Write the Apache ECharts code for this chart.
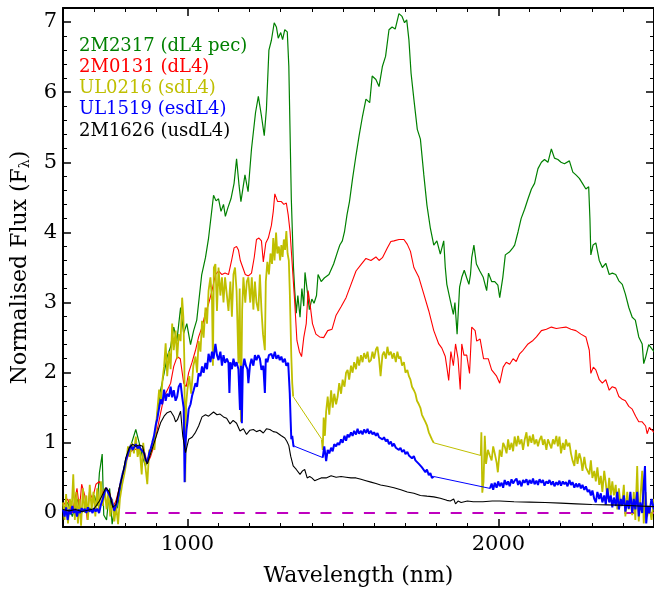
<!DOCTYPE html>
<html>
<head>
<meta charset="utf-8">
<script src="https://cdn.jsdelivr.net/npm/echarts@6/dist/echarts.min.js"></script>
<style>
html,body{margin:0;padding:0;background:#fff;}
#chart{width:654px;height:592px;}
</style>
</head>
<body>
<div id="chart"></div>
<script>
// ---- Data (wavelength nm, normalised flux) ----
const seriesNames = ['2M2317 (dL4 pec)', '2M0131 (dL4)', 'UL0216 (sdL4)', 'UL1519 (esdL4)', '2M1626 (usdL4)'];
const seriesColors = ['#008000', '#ff0000', '#bfbf00', '#0000ff', '#000000'];

const green2M2317 = [[600,0.05],[615,0.15],[630,-0.05],[645,0.2],[660,0.0],[675,0.1],[690,0.05],[701,0.25],[710,0.1],[717,0.57],[726,0.84],[731,-0.03],[740,-0.1],[750,0.35],[758,-0.16],[768,0.1],[775,0.07],[791,0.53],[802,0.76],[818,0.96],[834,1.19],[845,1.0],[855,0.81],[865,0.67],[875,0.8],[893,0.99],[903,1.42],[914,1.76],[925,1.99],[935,2.23],[946,2.37],[956,2.65],[966,2.45],[978,2.93],[988,2.56],[998,2.7],[1010,2.4],[1020,2.6],[1030,2.75],[1046,3.4],[1058,3.64],[1068,3.92],[1084,4.53],[1092,4.45],[1100,4.48],[1108,4.3],[1116,4.4],[1122,4.23],[1130,4.35],[1140,4.48],[1150,4.7],[1158,5.05],[1166,4.67],[1172,4.44],[1185,4.82],[1195,4.58],[1206,5.19],[1219,5.71],[1228,5.94],[1238,5.66],[1247,5.38],[1254,5.76],[1262,6.6],[1270,6.74],[1279,6.99],[1286,6.93],[1292,6.77],[1300,6.85],[1306,6.75],[1313,6.89],[1321,6.86],[1326,6.37],[1334,4.48],[1341,3.5],[1345,3.17],[1350,2.85],[1355,3.1],[1362,2.79],[1368,3.2],[1374,2.95],[1378,3.43],[1386,3.14],[1392,2.9],[1400,3.05],[1407,2.99],[1415,3.1],[1420,3.4],[1430,3.3],[1440,3.35],[1455,3.4],[1470,3.55],[1483,3.73],[1490,3.82],[1498,3.88],[1505,4.01],[1513,4.25],[1521,4.44],[1531,4.77],[1542,5.1],[1552,5.38],[1563,5.66],[1574,5.9],[1586,5.85],[1594,6.23],[1606,6.18],[1616,6.08],[1627,6.37],[1637,6.51],[1648,6.89],[1658,6.93],[1668,6.9],[1680,7.12],[1690,7.08],[1698,6.99],[1705,7.03],[1712,6.75],[1719,6.27],[1728,5.9],[1739,5.47],[1749,5.33],[1760,4.82],[1770,4.39],[1781,4.06],[1792,3.82],[1802,3.88],[1813,3.69],[1824,3.88],[1829,3.5],[1834,3.26],[1845,3.03],[1855,2.83],[1860,3.0],[1867,2.55],[1875,3.22],[1882,3.36],[1890,3.46],[1898,3.35],[1905,3.26],[1910,3.4],[1914,3.64],[1921,3.82],[1929,3.55],[1940,3.45],[1951,3.36],[1962,3.17],[1968,3.42],[1978,3.3],[1988,3.3],[1998,3.25],[2004,3.07],[2014,3.36],[2022,3.68],[2035,3.72],[2046,3.78],[2052,3.82],[2063,4.01],[2073,4.2],[2084,4.33],[2095,4.48],[2106,4.62],[2116,4.7],[2127,4.91],[2138,5.0],[2148,5.04],[2159,5.0],[2170,5.19],[2180,5.06],[2191,5.04],[2201,5.0],[2212,4.98],[2228,5.02],[2239,4.86],[2249,4.82],[2260,4.77],[2270,4.7],[2281,4.62],[2290,4.65],[2294,4.2],[2297,3.68],[2304,3.82],[2313,3.85],[2324,3.6],[2334,3.5],[2345,3.56],[2356,3.4],[2366,3.42],[2377,3.4],[2387,3.31],[2398,3.26],[2408,3.12],[2419,2.93],[2430,2.79],[2440,2.75],[2451,2.51],[2462,2.41],[2467,2.13],[2473,2.22],[2483,2.4],[2500,2.3]];

const red2M0131 = [[600,0.1],[615,0.2],[630,0.0],[645,0.35],[653,0.06],[660,0.41],[670,0.25],[678,-0.1],[685,0.3],[695,0.2],[706,0.41],[717,0.45],[728,0.27],[738,0.36],[749,0.3],[760,0.08],[770,0.17],[781,0.36],[792,0.55],[802,0.72],[813,0.86],[829,0.91],[845,0.9],[860,0.91],[871,0.70],[882,0.81],[893,0.96],[903,1.19],[914,1.43],[925,1.66],[935,1.75],[946,1.85],[956,2.09],[967,2.23],[977,2.2],[988,1.85],[996,1.8],[1004,2.0],[1015,2.15],[1026,2.32],[1036,2.51],[1047,2.65],[1057,2.84],[1068,2.98],[1079,3.17],[1090,3.4],[1100,3.45],[1111,3.4],[1121,3.42],[1132,3.4],[1142,3.6],[1150,3.78],[1158,3.8],[1164,3.75],[1170,3.6],[1178,3.5],[1186,3.4],[1196,3.38],[1206,3.42],[1215,3.65],[1222,3.9],[1230,3.92],[1238,3.88],[1244,3.58],[1252,3.85],[1260,3.92],[1270,4.1],[1276,4.3],[1281,4.55],[1290,4.44],[1302,4.44],[1310,4.4],[1318,4.42],[1324,4.25],[1330,4.01],[1337,3.54],[1345,3.0],[1352,2.46],[1360,2.3],[1367,2.23],[1374,2.5],[1382,2.7],[1388,3.17],[1395,2.95],[1402,2.7],[1413,2.55],[1425,2.51],[1438,2.5],[1451,2.6],[1465,2.62],[1478,2.82],[1494,2.94],[1510,3.07],[1526,3.26],[1542,3.45],[1558,3.54],[1574,3.63],[1590,3.6],[1606,3.65],[1616,3.6],[1627,3.64],[1643,3.78],[1654,3.87],[1664,3.88],[1680,3.9],[1696,3.9],[1707,3.83],[1717,3.73],[1728,3.5],[1744,3.36],[1760,3.12],[1776,2.88],[1792,2.6],[1808,2.41],[1818,2.35],[1829,2.23],[1834,2.08],[1840,1.89],[1847,2.3],[1855,2.1],[1862,2.41],[1870,2.2],[1877,1.76],[1882,2.41],[1889,2.25],[1898,2.25],[1907,1.99],[1914,2.65],[1925,2.6],[1930,2.45],[1941,2.48],[1952,2.2],[1967,2.2],[1978,2.04],[1994,1.95],[2004,1.85],[2015,2.08],[2025,2.15],[2036,2.12],[2047,2.2],[2057,2.16],[2068,2.27],[2079,2.32],[2095,2.41],[2111,2.46],[2122,2.51],[2138,2.6],[2154,2.62],[2170,2.65],[2186,2.63],[2201,2.64],[2217,2.65],[2233,2.62],[2249,2.6],[2265,2.55],[2281,2.51],[2292,2.32],[2297,1.99],[2305,2.08],[2313,2.04],[2324,1.9],[2334,1.85],[2345,1.9],[2356,1.75],[2366,1.8],[2377,1.78],[2387,1.66],[2398,1.62],[2408,1.6],[2419,1.52],[2430,1.48],[2441,1.38],[2451,1.3],[2462,1.3],[2473,1.24],[2478,1.13],[2485,1.22],[2500,1.15]];

const yellowUL0216 = [[600,0.15],[605,-0.1],[610,0.27],[616,-0.15],[622,0.2],[628,0.05],[633,0.55],[638,-0.1],[643,0.3],[648,-0.15],[653,0.2],[658,-0.18],[664,0.35],[670,0.0],[675,0.25],[680,-0.1],[686,0.4],[692,0.05],[698,0.3],[704,-0.05],[710,0.35],[716,0.0],[722,0.45],[728,0.1],[734,0.35],[740,0.05],[746,0.3],[752,-0.05],[758,0.2],[765,-0.12],[771,0.1],[777,-0.16],[783,0.2],[790,0.4],[797,0.55],[803,0.7],[809,0.95],[815,0.8],[821,1.0],[828,0.85],[834,1.09],[840,0.8],[846,0.95],[853,0.55],[858,1.0],[864,0.7],[871,0.41],[877,0.9],[883,0.85],[889,1.05],[894,0.9],[898,1.19],[904,1.5],[909,1.76],[915,1.6],[920,1.9],[925,2.09],[930,2.42],[935,1.95],[941,2.3],[946,2.05],[951,2.7],[956,2.32],[962,2.6],[967,2.2],[972,2.55],[978,2.45],[983,3.07],[987,2.79],[990,2.2],[993,0.44],[996,1.55],[1000,1.76],[1006,1.95],[1012,1.7],[1019,2.1],[1026,2.23],[1031,2.0],[1036,2.45],[1042,2.3],[1047,2.74],[1052,2.5],[1058,2.93],[1063,2.7],[1068,3.17],[1074,3.36],[1079,3.03],[1082,2.1],[1085,3.5],[1090,3.55],[1095,2.88],[1100,3.5],[1106,3.1],[1111,3.36],[1116,3.0],[1121,3.36],[1127,3.1],[1132,2.88],[1138,3.3],[1143,2.8],[1148,3.4],[1153,3.5],[1158,3.17],[1164,2.13],[1168,3.2],[1172,1.3],[1176,2.9],[1180,3.36],[1186,3.0],[1191,3.3],[1196,3.36],[1202,3.0],[1207,3.36],[1212,2.9],[1217,3.3],[1222,3.0],[1228,2.88],[1233,3.4],[1238,2.9],[1243,2.55],[1249,2.32],[1252,3.3],[1257,3.58],[1262,3.4],[1267,3.7],[1272,3.55],[1276,3.92],[1280,3.6],[1285,4.0],[1289,3.7],[1294,3.8],[1298,3.6],[1302,3.82],[1306,3.65],[1310,3.9],[1314,3.75],[1318,4.02],[1322,3.7],[1326,3.6],[1329,3.17],[1334,2.23],[1337,1.85],[1340,1.66],
[1432,1.05],[1435,0.9],[1438,1.36],[1442,1.1],[1446,1.45],[1451,1.66],[1456,1.4],[1462,1.75],[1467,1.5],[1472,1.7],[1478,1.55],[1483,1.66],[1488,1.85],[1494,1.7],[1499,1.9],[1505,1.8],[1510,2.0],[1515,2.04],[1520,1.9],[1526,2.1],[1531,2.0],[1536,2.15],[1542,2.05],[1547,2.23],[1552,2.1],[1558,2.25],[1563,2.15],[1568,2.28],[1574,2.2],[1579,2.3],[1584,2.15],[1590,2.18],[1595,2.3],[1600,2.2],[1606,2.33],[1611,2.37],[1616,2.2],[1621,1.95],[1627,2.25],[1632,2.3],[1638,2.2],[1643,2.37],[1648,2.25],[1654,2.3],[1659,2.2],[1664,2.28],[1670,2.15],[1675,2.3],[1680,2.2],[1685,2.23],[1690,2.1],[1696,2.15],[1701,2.0],[1707,2.04],[1712,1.95],[1717,1.9],[1722,1.8],[1728,1.75],[1733,1.7],[1738,1.6],[1744,1.55],[1749,1.5],[1754,1.4],[1760,1.38],[1765,1.3],[1770,1.25],[1776,1.15],[1781,1.14],[1786,1.05],[1792,1.0],
[1943,0.82],[1945,1.15],[1948,0.29],[1952,0.45],[1956,1.1],[1960,0.7],[1966,0.9],[1972,0.82],[1978,0.75],[1983,0.95],[1988,0.85],[1994,0.72],[1998,0.58],[2004,0.9],[2010,0.8],[2015,1.0],[2020,0.95],[2026,0.85],[2031,1.05],[2036,0.9],[2042,1.0],[2047,0.88],[2052,1.09],[2058,0.95],[2063,1.1],[2068,0.98],[2074,1.05],[2079,0.9],[2084,1.04],[2090,1.15],[2095,0.95],[2100,1.1],[2106,1.0],[2111,1.12],[2116,0.98],[2122,1.05],[2127,0.95],[2132,1.04],[2138,1.1],[2143,0.97],[2148,1.05],[2154,0.9],[2159,1.05],[2164,1.04],[2170,0.92],[2175,1.05],[2180,0.98],[2186,1.1],[2191,0.95],[2196,1.09],[2201,0.85],[2207,1.0],[2212,0.9],[2217,1.05],[2222,0.95],[2228,1.0],[2233,0.85],[2238,0.75],[2244,0.67],[2249,0.9],[2254,0.7],[2260,0.85],[2265,0.77],[2270,0.6],[2276,0.8],[2281,0.65],[2287,0.67],[2292,0.55],[2297,0.75],[2302,0.5],[2308,0.6],[2313,0.45],[2318,0.65],[2324,0.4],[2329,0.53],[2334,0.3],[2340,0.6],[2345,0.43],[2350,0.2],[2356,0.5],[2361,0.25],[2366,0.45],[2371,0.25],[2377,0.4],[2382,0.05],[2387,0.35],[2393,0.1],[2398,0.15],[2403,0.4],[2408,-0.05],[2414,0.3],[2419,0.05],[2424,0.2],[2430,-0.03],[2435,0.3],[2440,-0.1],[2446,0.67],[2451,-0.12],[2456,0.2],[2462,0.6],[2467,-0.15],[2473,0.3],[2478,-0.05],[2485,0.1],[2492,-0.1],[2500,0.2]];

const blueUL1519 = [[600,0.05],[605,-0.05],[610,0.08],[615,-0.1],[620,0.05],[625,-0.02],[630,0.1],[635,0.0],[640,0.06],[645,-0.05],[650,0.05],[655,0.0],[660,0.07],[665,0.02],[670,0.06],[675,0.0],[680,0.08],[685,0.02],[690,0.05],[695,0.0],[700,0.07],[705,0.02],[710,0.06],[716,0.0],[722,0.12],[728,0.2],[734,0.3],[739,0.36],[744,0.3],[750,0.32],[755,0.2],[760,0.12],[765,0.03],[770,0.1],[775,0.17],[780,0.3],[786,0.45],[791,0.55],[797,0.64],[802,0.75],[808,0.83],[813,0.9],[818,0.97],[824,0.9],[829,0.91],[834,0.98],[840,0.92],[845,0.95],[850,0.91],[856,0.88],[861,0.85],[866,0.75],[871,0.72],[877,0.85],[882,0.92],[887,1.0],[893,1.11],[898,1.25],[903,1.34],[909,1.5],[914,1.62],[919,1.55],[925,1.76],[930,1.6],[935,1.7],[941,1.66],[946,1.8],[951,1.65],[956,1.75],[962,1.6],[967,1.66],[972,1.8],[978,1.85],[983,1.66],[988,1.5],[991,0.44],[994,1.0],[997,1.19],[1000,1.3],[1004,1.48],[1010,1.55],[1015,1.67],[1020,1.75],[1026,1.85],[1031,1.8],[1036,1.99],[1042,1.95],[1047,2.09],[1052,2.0],[1058,2.14],[1063,2.05],[1068,2.27],[1074,2.15],[1079,2.3],[1084,2.2],[1090,2.41],[1095,2.25],[1100,2.18],[1106,2.3],[1111,2.1],[1116,2.25],[1121,2.14],[1127,2.2],[1132,2.14],[1135,1.71],[1138,2.15],[1143,2.05],[1148,2.2],[1153,2.09],[1158,2.15],[1164,2.05],[1169,1.47],[1172,2.1],[1175,1.28],[1178,2.05],[1183,2.2],[1188,2.1],[1193,2.05],[1196,1.85],[1201,2.1],[1206,2.2],[1212,2.1],[1217,2.25],[1222,2.18],[1228,2.25],[1233,2.2],[1238,2.04],[1244,2.1],[1249,1.71],[1252,2.2],[1257,2.15],[1262,2.25],[1270,2.27],[1275,2.2],[1281,2.3],[1286,2.2],[1292,2.25],[1297,2.18],[1302,2.23],[1307,2.15],[1313,2.2],[1318,2.1],[1324,2.14],[1329,1.71],[1332,1.3],[1334,1.05],[1337,1.1],[1341,0.95],[1345,0.95],
[1435,0.79],[1440,0.95],[1446,0.74],[1451,0.9],[1456,0.85],[1462,0.93],[1467,0.88],[1472,0.98],[1478,0.95],[1483,1.0],[1488,0.97],[1494,1.05],[1499,1.0],[1505,1.1],[1510,1.03],[1515,1.12],[1520,1.08],[1526,1.15],[1531,1.1],[1536,1.17],[1542,1.12],[1547,1.2],[1552,1.13],[1558,1.17],[1563,1.12],[1568,1.19],[1574,1.14],[1579,1.2],[1584,1.13],[1590,1.17],[1595,1.12],[1600,1.15],[1606,1.1],[1611,1.14],[1616,1.08],[1621,1.1],[1627,1.05],[1632,1.08],[1638,1.02],[1643,1.05],[1648,0.98],[1654,1.02],[1659,0.95],[1664,0.99],[1670,0.93],[1675,0.95],[1680,0.9],[1685,0.93],[1690,0.87],[1696,0.9],[1701,0.84],[1707,0.87],[1712,0.82],[1717,0.84],[1722,0.78],[1728,0.81],[1733,0.75],[1738,0.77],[1744,0.7],[1749,0.72],[1754,0.65],[1760,0.67],[1765,0.58],[1770,0.62],[1776,0.54],[1781,0.57],[1786,0.5],[1792,0.52],
[1973,0.35],[1978,0.42],[1983,0.33],[1988,0.43],[1994,0.36],[1999,0.45],[2004,0.38],[2010,0.43],[2015,0.36],[2020,0.47],[2026,0.4],[2031,0.45],[2036,0.38],[2042,0.48],[2047,0.42],[2052,0.46],[2058,0.49],[2063,0.4],[2068,0.46],[2074,0.38],[2079,0.47],[2084,0.43],[2090,0.48],[2095,0.4],[2100,0.47],[2106,0.42],[2111,0.49],[2116,0.41],[2122,0.46],[2127,0.4],[2132,0.48],[2138,0.43],[2143,0.47],[2148,0.39],[2154,0.45],[2159,0.42],[2164,0.47],[2170,0.4],[2175,0.45],[2180,0.38],[2186,0.44],[2191,0.4],[2196,0.46],[2201,0.39],[2207,0.45],[2212,0.41],[2217,0.44],[2222,0.38],[2228,0.47],[2233,0.4],[2238,0.44],[2244,0.36],[2249,0.42],[2254,0.37],[2260,0.42],[2265,0.35],[2270,0.4],[2276,0.33],[2281,0.38],[2287,0.3],[2292,0.33],[2297,0.25],[2302,0.32],[2308,0.2],[2313,0.15],[2318,0.3],[2324,0.2],[2329,0.28],[2334,0.15],[2340,0.25],[2345,0.12],[2350,0.35],[2356,0.15],[2361,0.25],[2366,0.08],[2371,0.22],[2377,0.1],[2382,0.3],[2387,0.05],[2393,0.2],[2398,0.1],[2403,0.25],[2408,0.02],[2414,0.18],[2419,0.06],[2424,0.3],[2430,0.0],[2435,0.2],[2440,0.05],[2446,0.3],[2451,-0.05],[2456,0.15],[2462,0.0],[2467,0.4],[2471,0.67],[2475,-0.15],[2480,0.1],[2485,0.0],[2492,0.2],[2500,0.05]];

const black2M1626 = [[600,0.05],[620,0.03],[640,0.05],[660,0.02],[680,0.04],[700,0.06],[717,0.17],[728,0.27],[738,0.36],[749,0.3],[760,0.08],[770,0.12],[781,0.36],[792,0.55],[802,0.79],[813,0.93],[824,0.98],[834,0.95],[845,0.97],[856,0.95],[864,0.79],[871,0.7],[882,0.85],[893,1.0],[903,1.14],[914,1.29],[925,1.38],[935,1.43],[946,1.45],[956,1.38],[962,1.3],[968,1.33],[978,1.45],[985,1.1],[994,0.86],[1004,1.05],[1015,1.08],[1026,1.15],[1036,1.24],[1047,1.37],[1058,1.4],[1068,1.38],[1084,1.44],[1095,1.4],[1105,1.41],[1116,1.37],[1126,1.35],[1137,1.27],[1147,1.32],[1158,1.28],[1169,1.17],[1180,1.2],[1190,1.12],[1201,1.18],[1212,1.19],[1222,1.16],[1233,1.18],[1244,1.14],[1254,1.2],[1265,1.19],[1276,1.16],[1286,1.15],[1302,1.1],[1313,1.07],[1320,1.02],[1326,0.96],[1332,0.81],[1340,0.67],[1350,0.62],[1362,0.55],[1370,0.6],[1377,0.62],[1385,0.5],[1393,0.52],[1400,0.5],[1409,0.46],[1420,0.48],[1430,0.5],[1446,0.5],[1462,0.53],[1478,0.51],[1494,0.52],[1510,0.51],[1526,0.5],[1542,0.5],[1558,0.48],[1574,0.46],[1590,0.44],[1606,0.42],[1621,0.4],[1643,0.38],[1664,0.36],[1686,0.33],[1707,0.3],[1728,0.28],[1749,0.25],[1770,0.24],[1792,0.23],[1813,0.21],[1834,0.18],[1845,0.17],[1856,0.2],[1862,0.13],[1870,0.17],[1880,0.15],[1900,0.17],[1919,0.16],[1950,0.16],[1980,0.17],[2004,0.17],[2050,0.16],[2100,0.155],[2150,0.15],[2200,0.14],[2250,0.13],[2300,0.12],[2350,0.115],[2400,0.11],[2450,0.1],[2500,0.09]];

const zeroLine = [[800,0],[2500,0]];

// ---- Axis ticks ----
const xTickLabels = [1000, 2000];
const yTickLabels = [0, 1, 2, 3, 4, 5, 6, 7];
const xMinorTicks = [700,800,900,1100,1200,1300,1400,1500,1600,1700,1800,1900,2100,2200,2300,2400];
const yMinorTicks = [];
for (let i = 0; i <= 7; i++) { for (let j = 1; j <= 4; j++) { const v = +(i + j * 0.2).toFixed(1); if (v < 7.2) yMinorTicks.push(v); } }

const XMIN = 600, XMAX = 2500, YMIN = -0.2, YMAX = 7.2;
const FONT = 'DejaVu Serif';

function xAx(pos, major, showLabel, name) {
  return {
    type: 'value', min: XMIN, max: XMAX, position: pos, gridIndex: 0,
    axisLine: { show: major, onZero: false, lineStyle: { color: '#000', width: 2 } },
    axisTick: { show: true, inside: true, length: major ? 8 : 4, customValues: major ? xTickLabels : xMinorTicks,
                lineStyle: { color: '#000', width: major ? 1.5 : 1 } },
    axisLabel: { show: showLabel, customValues: xTickLabels, formatter: v => String(v),
                 fontFamily: FONT, fontSize: 21, color: '#000', margin: 7 },
    splitLine: { show: false },
    name: name || '', nameLocation: 'middle', nameGap: 38,
    nameTextStyle: { fontFamily: FONT, fontSize: 22, color: '#000' }
  };
}
function yAx(pos, major, showLabel, name) {
  return {
    type: 'value', min: YMIN, max: YMAX, position: pos, gridIndex: 0,
    axisLine: { show: major, onZero: false, lineStyle: { color: '#000', width: 2 } },
    axisTick: { show: true, inside: true, length: major ? 8 : 4, customValues: major ? yTickLabels : yMinorTicks,
                lineStyle: { color: '#000', width: major ? 1.5 : 1 } },
    axisLabel: { show: showLabel, customValues: yTickLabels, formatter: v => String(v),
                 fontFamily: FONT, fontSize: 21, color: '#000', margin: 6 },
    splitLine: { show: false },
    name: name || '', nameLocation: 'middle', nameGap: 29, nameRotate: 90,
    nameTextStyle: { fontFamily: FONT, fontSize: 22, color: '#000',
      rich: { s: { fontFamily: FONT, fontSize: 14, color: '#000', verticalAlign: 'bottom', padding: [10, 0, 0, 0] } } }
  };
}

// split a spectrum into its observed segments (gaps > 50 nm between samples)
function segmentsOf(arr) {
  const segs = [[arr[0]]];
  for (let i = 1; i < arr.length; i++) {
    if (arr[i][0] - arr[i - 1][0] > 50) segs.push([]);
    segs[segs.length - 1].push(arr[i]);
  }
  return segs;
}
function withBreaks(arr) {
  const out = [];
  segmentsOf(arr).forEach((s, k) => { if (k) out.push([s[0][0] - 1, null]); s.forEach(p => out.push(p)); });
  return out;
}
function connectors(arr) {
  const segs = segmentsOf(arr), out = [];
  for (let k = 1; k < segs.length; k++) {
    if (k > 1) out.push([segs[k - 1][0][0], null]);
    out.push(segs[k - 1][segs[k - 1].length - 1]);
    out.push(segs[k][0]);
  }
  return out;
}

const specs = [green2M2317, red2M0131, yellowUL0216, blueUL1519, black2M1626];
const widths = [1.2, 1.1, 1.8, 2.0, 1.1];

const series = [{
  type: 'line', name: 'zero', data: zeroLine, xAxisIndex: 0, yAxisIndex: 0,
  showSymbol: false, silent: true, z: 1,
  lineStyle: { color: '#bf00bf', width: 2, type: [11, 10.7] }
}];
specs.forEach((d, i) => {
  series.push({
    type: 'line', name: seriesNames[i], data: withBreaks(d), xAxisIndex: 0, yAxisIndex: 0,
    showSymbol: false, symbol: 'none', clip: true, z: 2 + i, connectNulls: false,
    lineStyle: { color: seriesColors[i], width: widths[i] },
    itemStyle: { color: seriesColors[i] }
  });
  const c = connectors(d);
  if (c.length) {
    series.push({
      type: 'line', name: seriesNames[i] + ' gap', data: c, xAxisIndex: 0, yAxisIndex: 0,
      showSymbol: false, symbol: 'none', clip: true, z: 2 + i, silent: true,
      lineStyle: { color: seriesColors[i], width: 1 }
    });
  }
});

const chart = echarts.init(document.getElementById('chart'), null, { renderer: 'canvas' });
chart.setOption({
  animation: false,
  backgroundColor: '#fff',
  grid: { left: 63, right: -5, top: 8, bottom: 61, containLabel: false },
  legend: {
    show: true, orient: 'vertical', left: 74, top: 35.5, padding: 0, icon: 'none',
    itemWidth: 0, itemHeight: 21, itemGap: 0.25, selectedMode: false,
    data: seriesNames.map((n, i) => ({ name: n, textStyle: { color: seriesColors[i] } })),
    textStyle: { fontFamily: FONT, fontSize: 18, lineHeight: 21 }
  },
  xAxis: [xAx('bottom', true, true, 'Wavelength (nm)'), xAx('bottom', false, false), xAx('top', true, false), xAx('top', false, false)],
  yAxis: [yAx('left', true, true, 'Normalised Flux (F{s|λ})'), yAx('left', false, false), yAx('right', true, false), yAx('right', false, false)],
  series: series
});
</script>
</body>
</html>
